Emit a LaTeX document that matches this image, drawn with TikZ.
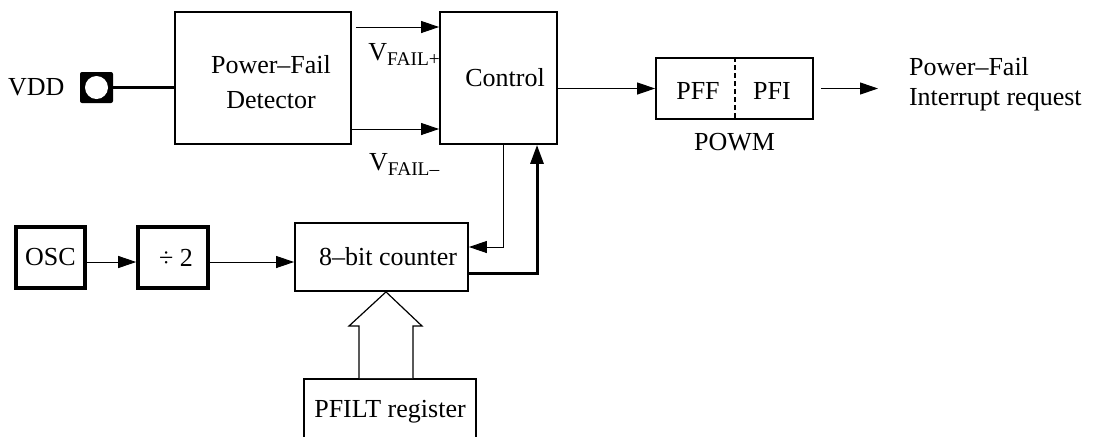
\documentclass[tikz,border=0pt]{standalone}
\usepackage{fontspec}
\setmainfont{Liberation Serif}
\usepackage{tikz}
\usetikzlibrary{arrows.meta,positioning,calc}
\newcommand{\vsub}[1]{\raisebox{-2.5pt}{\fontsize{9.7}{10}\selectfont #1}}

\begin{document}
\begin{tikzpicture}[
    x=0.5pt,y=-0.5pt,
    font=\fontsize{13}{15}\selectfont,
    box/.style={draw,line width=0.9pt,inner sep=0pt,align=center},
    hbox/.style={box,line width=1.8pt},
    boxtext/.style n args={3}{label={[align=center,font=\fontsize{13}{17.5}\selectfont,xshift=#1,yshift=#2]center:#3}},
    arr/.style={-{Triangle[length=9pt,width=6pt]},line width=0.5pt},
    fat/.style={-{Triangle[length=9.5pt,width=6.5pt]},line width=1.5pt},
    wire/.style={line width=1.2pt},
    hollow/.style={draw,line width=0.6pt,fill=white,line join=miter}
  ]
    \clip (0,0) rectangle (1098,436);
    \node[box,minimum width=88pt,minimum height=66pt,boxtext={4pt}{-2.25pt}{Power--Fail\\Detector}] (det) at (263,78) {};
    \node[box,minimum width=58.5pt,minimum height=66pt,boxtext={3.25pt}{0pt}{Control}] (ctrl) at (498.5,78) {};
    \node[box,minimum width=78.5pt,minimum height=30.5pt] (powm) at (734.5,88.5) {};
    \node (pff) at (698,91) {PFF};
    \node (pfi) at (772,91) {PFI};
    \node[below=3pt of powm] (powmlbl) {POWM};
    \node[align=left,anchor=west] (irq) at (902,84) {Power--Fail\\Interrupt request};
    \node[fill,rounded corners=1pt,minimum width=16.5pt,minimum height=15.5pt,inner sep=0pt] (vdd) at (96.5,87.5) {};
    \fill[white] (vdd.center) circle (5.75pt);
    \node[left=4pt of vdd] (vddlbl) {VDD};
    \node[hbox,minimum width=34.5pt,minimum height=30.5pt] (osc) at (50.5,257.5) {OSC};
    \node[hbox,minimum width=35pt,minimum height=30.5pt,boxtext={1.5pt}{0pt}{÷ 2}] (div) at (173,257.5) {};
    \node[box,minimum width=86.5pt,minimum height=34pt,boxtext={3.25pt}{0pt}{8--bit counter}] (cnt) at (381.5,257) {};
    \node[box,minimum width=86pt,minimum height=33pt] (pf) at (390,412) {PFILT register};
    \draw[wire] (vdd) -- (vdd -| det.west);
    \draw[arr] ([shift={(2pt,25.5pt)}]det.east) -- node[pos=0.58,yshift=-13.5pt] (vplus) {V\vsub{FAIL+}} ([yshift=25.5pt]ctrl.west);
    \draw[arr] ([yshift=-25.5pt]det.east) -- node[pos=0.6,yshift=-17.5pt] (vminus) {V\vsub{FAIL--}} ([yshift=-25.5pt]ctrl.west);
    \draw[arr] (ctrl.east |- powm.west) -- (powm.west);
    \draw[dashed,dash pattern=on 2.5pt off 1.5pt,line width=1pt] (powm.north) -- (powm.south);
    \draw[arr,shorten <=3.5pt,shorten >=12pt] (powm.east) -- (powm.east -| irq.west);
    \draw[arr] ([yshift=-2.25pt]osc.east) -- ([yshift=-2.25pt]div.west);
    \draw[arr] ([yshift=-2.25pt]div.east) -- ([yshift=-2.5pt]cnt.west);
    \draw[arr] ([xshift=2.25pt]ctrl.south) |- ([yshift=5pt]cnt.east);
    \draw[fat] ([yshift=-8pt]cnt.east) -| ([xshift=19.25pt]ctrl.south);
    \draw[hollow] (pf.north -| 359,0) -- (359,326) -- (349,326) -- (cnt.south -| 386,0) -- (422,326) -- (413,326) -- (pf.north -| 413,0);
  \end{tikzpicture}
\end{document}
